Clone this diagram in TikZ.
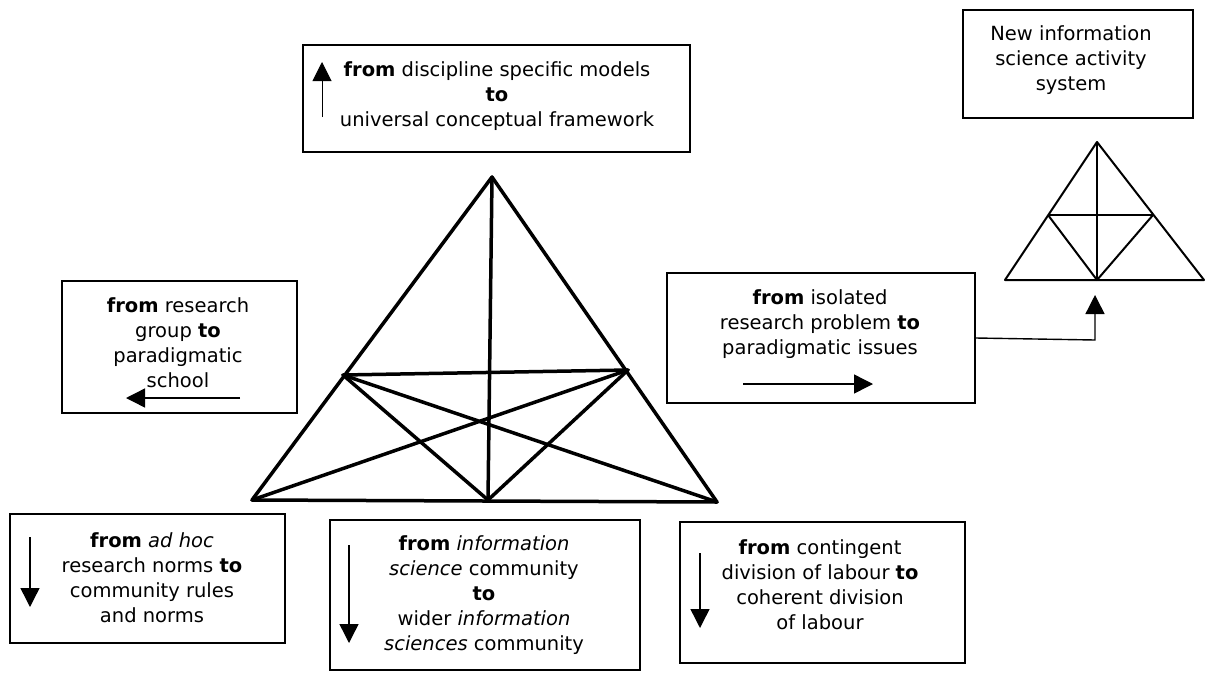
\documentclass[tikz,border=0pt]{standalone}
\usepackage{fontspec}
\setmainfont{DejaVu Sans}[ItalicFont={DejaVu Sans Oblique},BoldFont={DejaVu Sans Bold},BoldItalicFont={DejaVu Sans Bold Oblique}]
\usetikzlibrary{arrows.meta}
\begin{document}
\begin{tikzpicture}[x=1pt,y=-1pt,
 box/.style={draw, line width=1.8pt, inner sep=0pt},
 txt/.style={align=center, font=\fontsize{19.5}{25}\selectfont, inner sep=0pt},
 arr/.style={line width=1.4pt, -{Triangle[length=19pt,width=19pt]}},
 tri/.style={line width=3.5pt, line join=round, line cap=round},
 stri/.style={line width=2pt, line join=round}]
\useasboundingbox (0,0) rectangle (1206,672);

% boxes
\node[box, minimum width=387pt, minimum height=107pt] (topbox) at (496.5,98.5) {};
\node[box, minimum width=230pt, minimum height=108pt] (nbox) at (1078,64) {};
\node[box, minimum width=235pt, minimum height=132pt] (lbox) at (179.5,347) {};
\node[box, minimum width=308pt, minimum height=130pt] (rbox) at (821,338) {};
\node[box, minimum width=275pt, minimum height=129pt] (blbox) at (147.5,578.5) {};
\node[box, minimum width=310pt, minimum height=150pt] (bmbox) at (485,595) {};
\node[box, minimum width=285pt, minimum height=141pt] (brbox) at (822.5,592.5) {};

% texts
\node[txt] (toptxt) at (497,96) {\textbf{from} discipline specific models\\\textbf{to}\\universal conceptual framework};
\node[txt] (ntxt) at (1071,60) {New information\\science activity\\system};
\node[txt] (ltxt) at (178,342.5) {\textbf{from} research\\group \textbf{to}\\paradigmatic\\school};
\node[txt] (rtxt) at (820,324) {\textbf{from} isolated\\research problem \textbf{to}\\paradigmatic issues};
\node[txt] (bltxt) at (152,577.5) {\textbf{from} \textit{ad hoc}\\research norms \textbf{to}\\community rules\\and norms};
\node[txt] (bmtxt) at (484,595) {\textbf{from} \textit{information}\\\textit{science} community\\\textbf{to}\\wider \textit{information}\\\textit{sciences} community};
\node[txt] (brtxt) at (820,585) {\textbf{from} contingent\\division of labour \textbf{to}\\coherent division\\of labour};

% arrows inside boxes
\coordinate (ta1) at (322,117); \coordinate (ta2) at (322,62);
\coordinate (la1) at (240,398); \coordinate (la2) at (126,398);
\coordinate (ra1) at (743,384); \coordinate (ra2) at (873,384);
\coordinate (bla1) at (30,537); \coordinate (bla2) at (30,607);
\coordinate (bma1) at (349,545); \coordinate (bma2) at (349,643);
\coordinate (bra1) at (700,553); \coordinate (bra2) at (700,628);
\draw[arr, line width=1pt] (ta1) -- (ta2);
\draw[arr] (la1) -- (la2);
\draw[arr] (ra1) -- (ra2);
\draw[arr] (bla1) -- (bla2);
\draw[arr] (bma1) -- (bma2);
\draw[arr] (bra1) -- (bra2);

% main triangle
\coordinate (A) at (492,177);
\coordinate (L) at (252,500);
\coordinate (R) at (717,502);
\coordinate (M) at (488,500);
\coordinate (PL) at (343,375);
\coordinate (PR) at (628,370);
\draw[tri] (A) -- (L) -- (R) -- cycle;
\draw[tri] (A) -- (M);
\draw[tri] (PL) -- (PR);
\draw[tri] (PL) -- (M) -- (PR);
\draw[tri] (L) -- (PR);
\draw[tri] (PL) -- (R);

% small triangle
\coordinate (a) at (1097,142);
\coordinate (l) at (1005,280);
\coordinate (r) at (1204,280);
\coordinate (m) at (1097,280);
\coordinate (pl) at (1048,215);
\coordinate (pr) at (1153,215);
\draw[stri] (a) -- (l) -- (r) -- cycle;
\draw[stri] (a) -- (m);
\draw[stri] (pl) -- (pr);
\draw[stri] (pl) -- (m) -- (pr);

% connector
\coordinate (cbend) at (1095,340);
\coordinate (ctip) at (1095,295);
\draw[arr] (rbox.east) -- (cbend) -- (ctip);
\end{tikzpicture}
\end{document}
